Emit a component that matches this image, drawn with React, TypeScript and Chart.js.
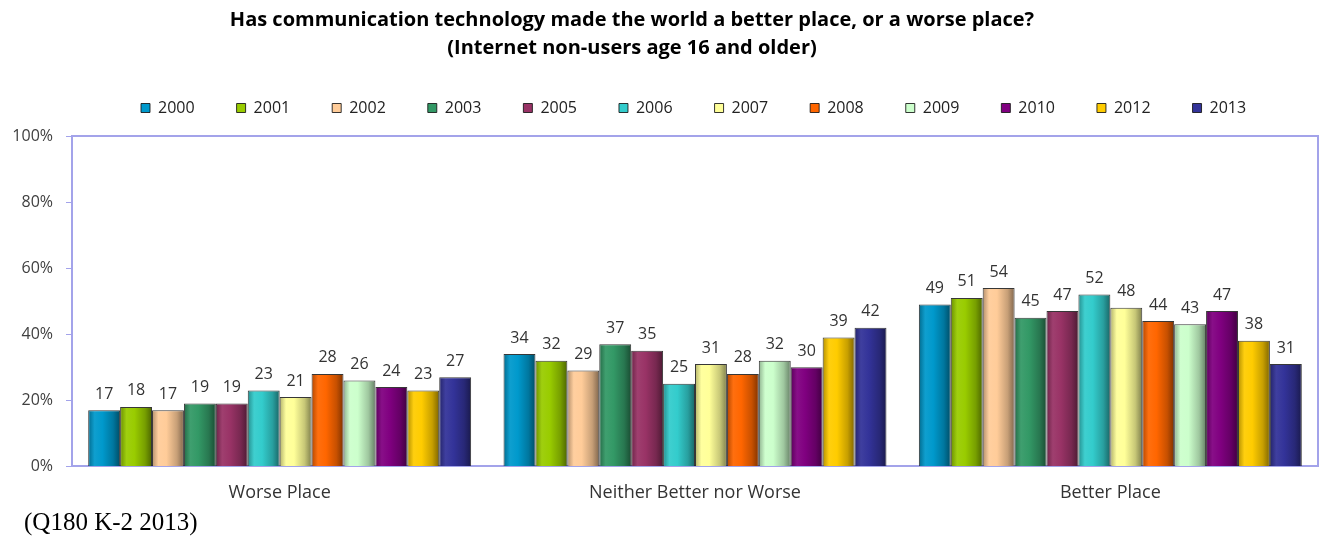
import React, { useEffect, useRef } from 'react';
import { Chart, registerables } from 'chart.js';

Chart.register(...registerables);

const categories = ['Worse Place', 'Neither Better nor Worse', 'Better Place'];
const years = ['2000', '2001', '2002', '2003', '2005', '2006', '2007', '2008', '2009', '2010', '2012', '2013'];
const worsePlace = [17, 18, 17, 19, 19, 23, 21, 28, 26, 24, 23, 27];
const neitherPlace = [34, 32, 29, 37, 35, 25, 31, 28, 32, 30, 39, 42];
const betterPlace = [49, 51, 54, 45, 47, 52, 48, 44, 43, 47, 38, 31];
const seriesColors = ['#0099CC', '#99CC00', '#FFCC99', '#339966', '#993366', '#33CCCC', '#FFFF99', '#FF6600', '#CCFFCC', '#800080', '#FFCC00', '#333399'];
const yTicks = [0, 20, 40, 60, 80, 100];
const titleLines = ['Has communication technology made the world a better place, or a worse place?', '(Internet non-users age 16 and older)'];
const footnote = '(Q180 K-2 2013)';

const FONT = "'Open Sans', sans-serif";
const FRAME = '#a3a3ea';
const CAT_PCT = 0.922;
const BAR_PCT = 1;
const LEGEND_FIRST_X = 141;
const LEGEND_DY = -10;
const TITLE_DX = -27;

function hexToRgb(h: string) {
  const v = parseInt(h.slice(1), 16);
  return [(v >> 16) & 255, (v >> 8) & 255, v & 255];
}
function tone(h: string, f: number) {
  const [r, g, b] = hexToRgb(h);
  const m = (c: number) => Math.round(f >= 0 ? c + (255 - c) * f : c * (1 + f));
  return `rgb(${m(r)},${m(g)},${m(b)})`;
}
const gradStops: [number, number][] = [[0, -0.3], [0.2, 0.06], [0.45, 0], [0.78, -0.22], [1, -0.5]];

const layoutPlugin = {
  id: 'shiftBoxes',
  afterLayout(chart: any) {
    const lg = chart.legend;
    if (lg && lg.lineWidths) {
      const pad = lg.options.labels.padding;
      const cur = (lg.left + pad + lg.right - lg.lineWidths[0]) / 2;
      const dx = LEGEND_FIRST_X - cur;
      lg.left += dx; lg.right += dx;
      lg.top += LEGEND_DY; lg.bottom += LEGEND_DY;
    }
    const tb = chart.titleBlock;
    if (tb) { tb.left += TITLE_DX; tb.right += TITLE_DX; }
  },
};

const framePlugin = {
  id: 'frame',
  beforeDatasetsDraw(chart: any) {
    const { ctx, chartArea: a } = chart;
    ctx.save();
    ctx.strokeStyle = FRAME;
    ctx.lineWidth = 2;
    ctx.beginPath();
    ctx.moveTo(a.left, a.top);
    ctx.lineTo(a.right, a.top);
    ctx.lineTo(a.right, a.bottom);
    ctx.stroke();
    ctx.restore();
  },
};

const labelPlugin = {
  id: 'valueLabels',
  afterDatasetsDraw(chart: any) {
    const ctx = chart.ctx;
    ctx.save();
    ctx.font = `16px ${FONT}`;
    ctx.fillStyle = '#333333';
    ctx.textAlign = 'center';
    ctx.textBaseline = 'middle';
    chart.data.datasets.forEach((ds: any, i: number) => {
      const meta = chart.getDatasetMeta(i);
      meta.data.forEach((el: any, j: number) => {
        ctx.fillText(String(ds.data[j]), el.x, el.y - 16);
      });
    });
    ctx.restore();
  },
  afterDraw(chart: any) {
    const ctx = chart.ctx;
    ctx.save();
    ctx.font = "25px 'Liberation Serif', serif";
    ctx.fillStyle = '#000';
    ctx.textAlign = 'left';
    ctx.textBaseline = 'middle';
    ctx.fillText(footnote, 24, 523);
    ctx.restore();
  },
};

export default function App() {
  const ref = useRef<HTMLCanvasElement | null>(null);
  useEffect(() => {
    if (!ref.current) return;
    const n = years.length;
    const datasets = years.map((y, i) => ({
      label: y,
      data: [worsePlace[i], neitherPlace[i], betterPlace[i]],
      borderColor: 'rgba(20,20,20,0.85)',
      borderWidth: 1,
      categoryPercentage: CAT_PCT,
      barPercentage: BAR_PCT,
      backgroundColor: (c: any) => {
        const base = seriesColors[c.datasetIndex];
        if (c.type !== 'data' || c.dataIndex === undefined) return base;
        const chart = c.chart;
        const xs = chart.scales && chart.scales.x;
        if (!xs || !xs.width) return base;
        const center = xs.getPixelForValue(c.dataIndex);
        const catW = xs.width / categories.length;
        const group = catW * CAT_PCT;
        const chunk = group / n;
        const left = center - group / 2 + chunk * c.datasetIndex;
        if (!isFinite(left)) return base;
        const g = chart.ctx.createLinearGradient(left, 0, left + chunk, 0);
        gradStops.forEach(([p, f]) => g.addColorStop(p, tone(base, f)));
        return g;
      },
    }));
    const chart = new Chart(ref.current, {
      type: 'bar',
      data: { labels: categories, datasets },
      plugins: [layoutPlugin, framePlugin, labelPlugin],
      options: {
        animation: false,
        responsive: true,
        maintainAspectRatio: false,
        layout: { padding: { left: 0, right: 8, top: 0, bottom: 17 } },
        plugins: {
          title: {
            display: true,
            text: titleLines,
            color: '#000',
            font: { family: FONT, size: 20, weight: 'bold', lineHeight: '28px' as any },
            padding: { top: 6, bottom: 6 },
          },
          legend: {
            display: true,
            position: 'top',
            labels: {
              boxWidth: 9,
              boxHeight: 9,
              padding: 42,
              color: '#222',
              font: { family: FONT, size: 16 },
              generateLabels: (chart: any) =>
                chart.data.datasets.map((ds: any, i: number) => ({
                  text: ds.label,
                  fillStyle: seriesColors[i],
                  strokeStyle: 'rgba(20,20,20,0.85)',
                  lineWidth: 1,
                  fontColor: '#222',
                  hidden: !chart.isDatasetVisible(i),
                  datasetIndex: i,
                })),
            },
          },
          tooltip: { enabled: false },
        },
        scales: {
          x: {
            grid: { display: false, drawTicks: false },
            border: { display: true, color: FRAME, width: 2 },
            ticks: { color: '#333', padding: 16, font: { family: FONT, size: 18 } },
          },
          y: {
            min: 0,
            max: 100,
            afterFit: (s: any) => { s.width = 72; },
            afterBuildTicks: (s: any) => { s.ticks = yTicks.map((v) => ({ value: v })); },
            grid: { drawOnChartArea: false, drawTicks: true, tickLength: 6, color: FRAME, lineWidth: 1 },
            border: { display: true, color: FRAME, width: 2 },
            ticks: {
              color: '#404040',
              padding: 13,
              font: { family: FONT, size: 16 },
              callback: (v: any) => `${v}%`,
            },
          },
        },
      },
    });
    return () => chart.destroy();
  }, []);
  return (
    <div style={{ position: 'absolute', left: 0, top: 0, width: 1326, height: 537, background: '#fff' }}>
      <canvas ref={ref} />
    </div>
  );
}
